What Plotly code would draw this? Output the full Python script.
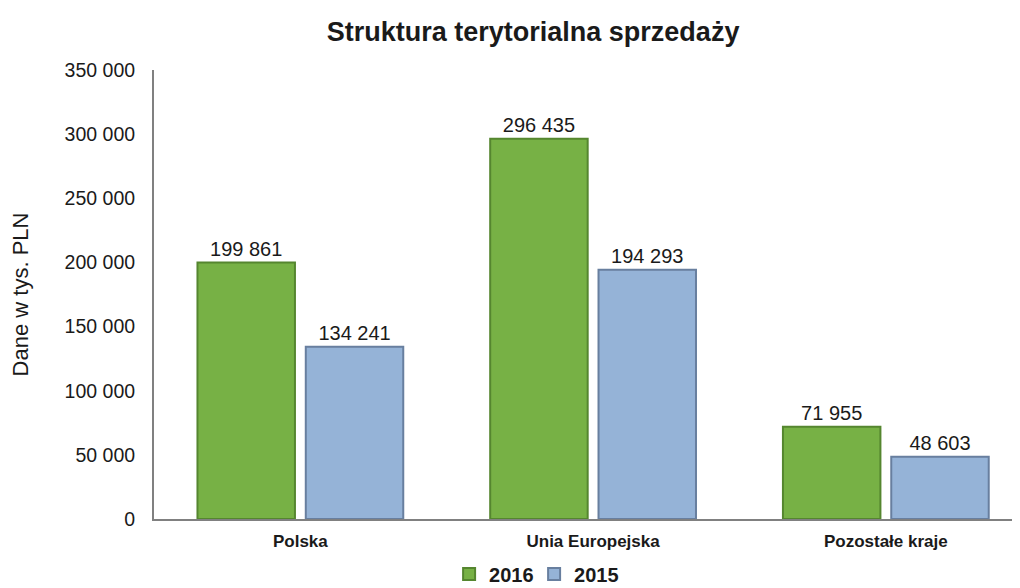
import plotly.graph_objects as go

regiony = ["Polska", "Unia Europejska", "Pozostałe kraje"]
sprzedaz_2016 = [199861, 296435, 71955]
sprzedaz_2015 = [134241, 194293, 48603]
os_y_ticks = [0, 50000, 100000, 150000, 200000, 250000, 300000, 350000]


def etykieta(v):
    return f"{v:,}".replace(",", " ")


fig = go.Figure()
fig.add_bar(x=regiony, y=sprzedaz_2016, name="2016",
            marker=dict(color="#77b145", line=dict(color="#55862f", width=2)),
            text=[etykieta(v) for v in sprzedaz_2016],
            textposition="outside", cliponaxis=False,
            textfont=dict(size=20, color="#1a1a1a"))
fig.add_bar(x=regiony, y=sprzedaz_2015, name="2015",
            marker=dict(color="#95b3d7", line=dict(color="#687f9f", width=2)),
            text=[etykieta(v) for v in sprzedaz_2015],
            textposition="outside", cliponaxis=False,
            textfont=dict(size=20, color="#1a1a1a"))

# strona ma 8px marginesu body, więc figura jest nieco mniejsza
fig.update_layout(
    width=1004, height=580,
    paper_bgcolor="white", plot_bgcolor="white",
    font=dict(family="Liberation Sans, Arial, sans-serif", color="#1a1a1a"),
    title=dict(text="<b>Struktura terytorialna sprzedaży</b>", x=0.523, xanchor="center",
               y=0.9586, yanchor="middle", font=dict(size=27)),
    margin=dict(l=146, r=0, t=62, b=69),
    barmode="group", bargap=0.26, bargroupgap=0.1,
    showlegend=True,
    legend=dict(orientation="h", x=0.443, xanchor="center", yref="container",
                y=0.024, yanchor="middle", font=dict(size=20, weight="bold"),
                itemwidth=30, entrywidth=40, traceorder="normal"),
    separators=", ",
)
# wykres w oryginale jest ucięty z prawej strony
fig.update_xaxes(range=[-0.5, 2.431], showline=True, linecolor="#808080", linewidth=2,
                 automargin=False, tickfont=dict(size=17), ticks="", ticklabelstandoff=6,
                 tickprefix="<b>", ticksuffix="</b>")
fig.update_yaxes(range=[0, 350000], tickvals=os_y_ticks, tickformat=",d",
                 showgrid=False, zeroline=False, automargin=False,
                 showline=True, linecolor="#808080", linewidth=2,
                 tickfont=dict(size=19.5), ticklabelstandoff=13,
                 title=dict(text="Dane w tys. PLN", font=dict(size=22), standoff=35))

fig.write_html("out.html")
